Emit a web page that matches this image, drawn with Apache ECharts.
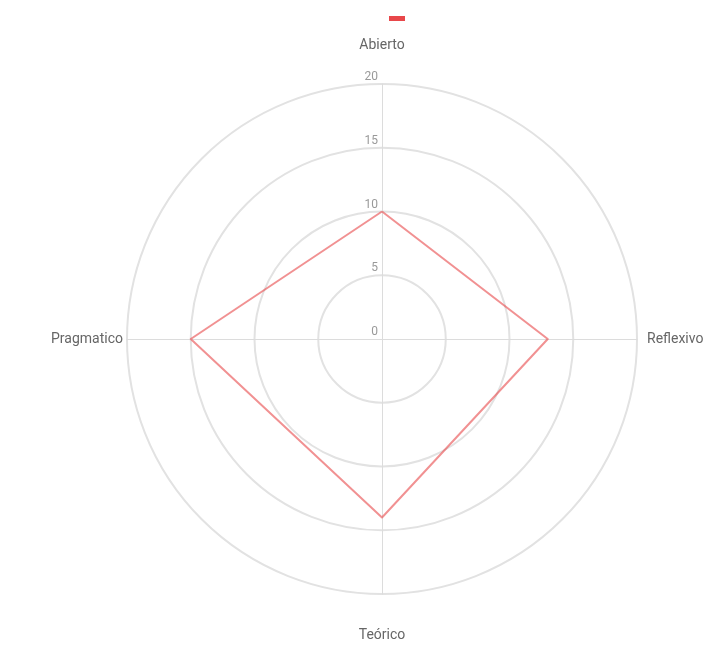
<!DOCTYPE html>
<html><head><meta charset="utf-8">
<script src="https://cdn.jsdelivr.net/npm/echarts@6/dist/echarts.min.js"></script>
<style>html,body{margin:0;padding:0;background:#fff}#c{width:722px;height:661px}</style>
</head><body><div id="c"></div>
<script>
const categories = ['Abierto', 'Pragmatico', 'Teórico', 'Reflexivo'];
const values = [10, 15, 14, 13];
const maxValue = 20;
const seriesName = ' ';

const chart = echarts.init(document.getElementById('c'));
chart.setOption({
  animation: false,
  textStyle: { fontFamily: 'Roboto' },
  legend: {
    left: 389, top: 16, padding: 0, icon: 'rect', itemWidth: 16, itemHeight: 5,
    formatter: () => '',
    data: [{ name: seriesName, itemStyle: { color: '#e8474a' } }]
  },
  radar: {
    center: [382, 339],
    radius: 255,
    shape: 'circle',
    splitNumber: 4,
    startAngle: 90,
    nameGap: 4,
    axisName: {
      color: '#666', fontSize: 14,
      formatter: (name) => name === categories[0] ? '{t|' + name + '}'
        : (name === categories[2] ? '{b|' + name + '}'
        : (name === categories[3] ? '{r|' + name + '}' : name)),
      rich: {
        t: { color: '#666', fontSize: 14, padding: [0, 0, 28, 0] },
        b: { color: '#666', fontSize: 14, padding: [30, 0, 0, 0] },
        r: { color: '#666', fontSize: 14, padding: [0, 0, 0, 6] }
      }
    },
    indicator: categories.map((c, i) => i === 0
      ? { name: c, max: maxValue, min: 0 }
      : { name: c, max: maxValue, min: 0, axisLabel: { show: false } }),
    axisLabel: {
      show: true, color: '#999', fontSize: 12, margin: 4, lineHeight: 14,
      formatter: (v) => v + '\n'
    },
    axisLine: { lineStyle: { color: '#dcdcdc', width: 1 } },
    splitLine: { lineStyle: { color: '#e2e2e2', width: 2 } },
    splitArea: { show: false }
  },
  series: [{
    name: seriesName,
    type: 'radar',
    symbol: 'none',
    lineStyle: { color: 'rgba(232,71,74,0.6)', width: 2 },
    itemStyle: { color: '#e8474a' },
    data: [{ value: values, name: seriesName }]
  }]
});
</script></body></html>
